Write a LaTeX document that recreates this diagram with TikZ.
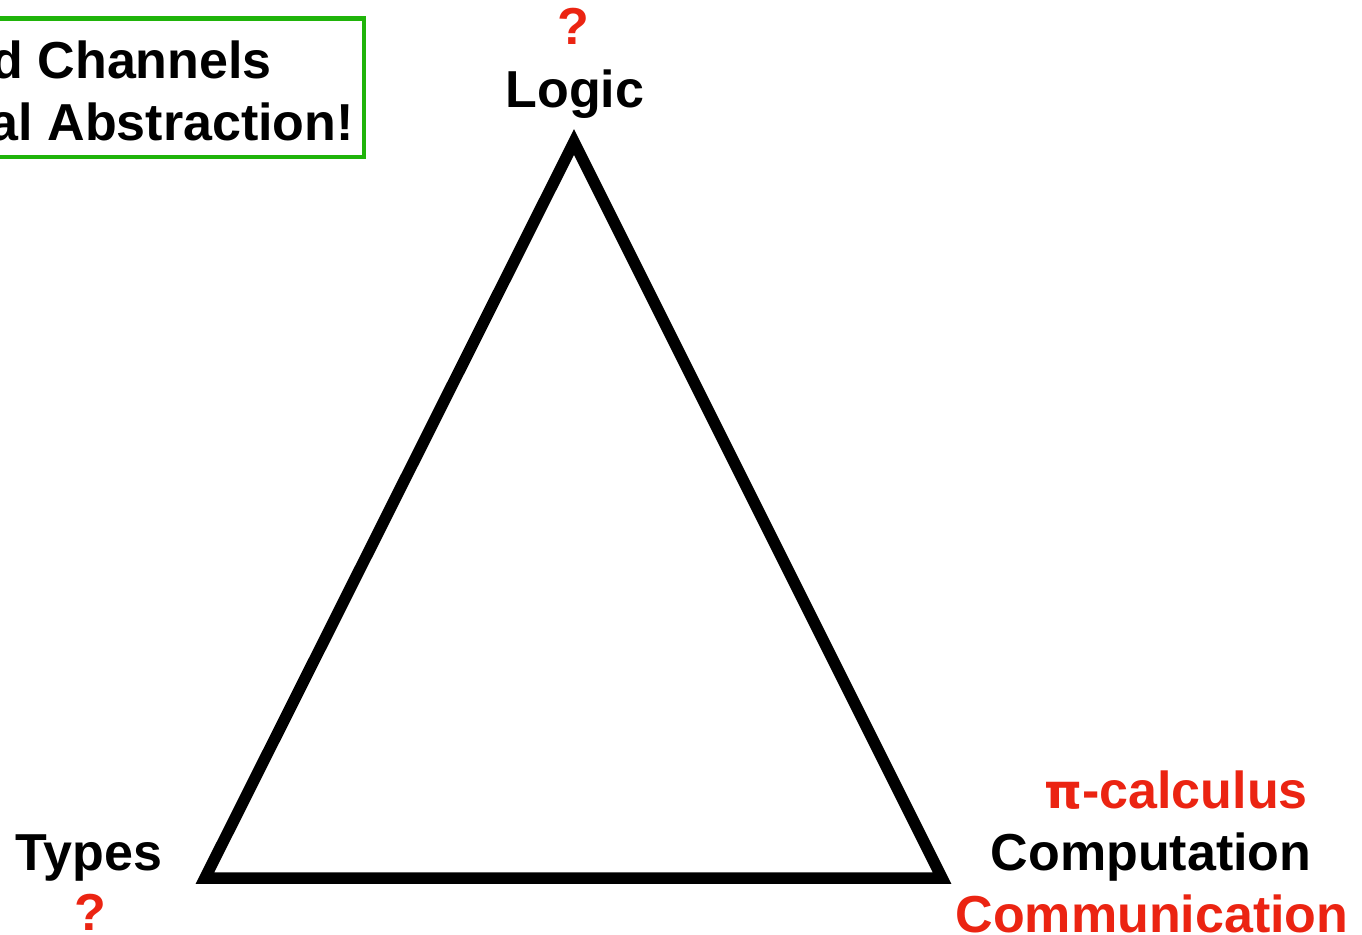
\documentclass[tikz,border=0pt]{standalone}
\usepackage{fontspec}
\setmainfont{Liberation Sans}
\newfontfamily\pifont{DejaVu Sans}
\definecolor{kred}{RGB}{235,36,18}
\definecolor{kgreen}{RGB}{32,180,10}
\begin{document}
\begin{tikzpicture}[x=1pt,y=-1pt,
  lbl/.style={font=\fontsize{52}{56}\selectfont\bfseries, inner sep=0pt, anchor=base},
  redlbl/.style={lbl, text=kred},
  tri/.style={line width=11.5pt, line join=miter, draw=black},
  gbox/.style={draw=kgreen, line width=4.5pt}]
\useasboundingbox (0,0) rectangle (1362,934);
% green box (left part outside picture)
\draw[gbox] (-20,18.5) rectangle (364,157);
\node[lbl, anchor=base east] (ch) at (272,78) {d Channels};
\node[lbl, anchor=base east] (ab) at (354,140) {al Abstraction!};
% triangle
\coordinate (top) at (574,142);
\coordinate (bl) at (205,878);
\coordinate (br) at (942,878);
\draw[tri] (top) -- (bl) -- (br) -- cycle;
% labels
\node[redlbl] (q1) at (573,45) {?};
\node[lbl] (logic) at (575,107) {Logic};
\node[lbl] (types) at (89,870) {Types};
\node[redlbl] (q2) at (90,930) {?};
\node[redlbl] (pi) at (1176,808) {{\pifont\fontsize{48}{56}\selectfont\bfseries π}-calculus};
\node[lbl] (comp) at (1151,870) {Computation};
\node[redlbl] (comm) at (1152,932) {Communication};
\end{tikzpicture}
\end{document}
